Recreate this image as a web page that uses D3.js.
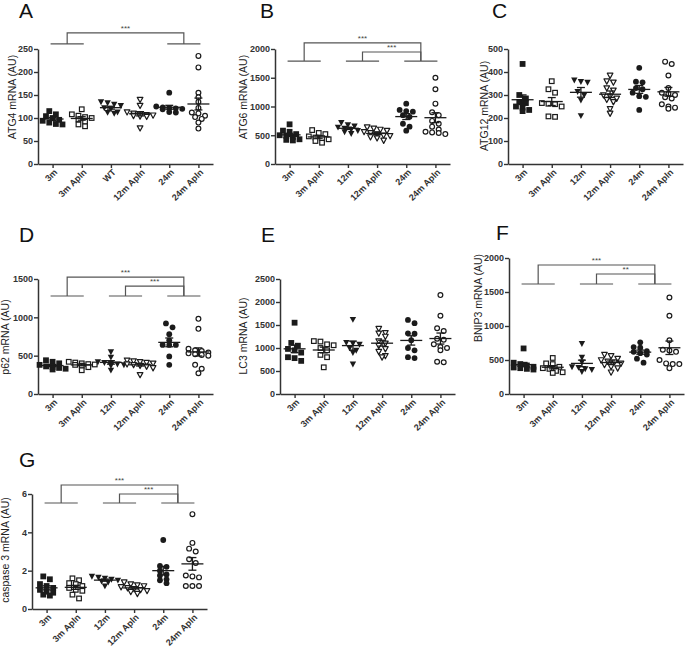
<!DOCTYPE html>
<html><head><meta charset="utf-8">
<script src="https://cdn.jsdelivr.net/npm/d3@7"></script>
<style>body{margin:0;background:#fff}svg{display:block}text{font-family:"Liberation Sans",Arial,sans-serif}</style>
</head><body>
<svg id="chart" width="685" height="649"></svg>
<script>
// ---- categories ----
const categoriesA = ["3m", "3m Apln", "WT", "12m Apln", "24m", "24m Apln"];
const categories = ["3m", "3m Apln", "12m", "12m Apln", "24m", "24m Apln"];

// ---- values (one array per group, order as categories) ----
const atg4Values = [
  [115, 108, 104, 100, 96, 94, 90, 87, 86],
  [119, 108, 105, 102, 100, 97, 92, 86, 82],
  [135, 133, 130, 127, 122, 120, 113, 112, 110],
  [140, 127, 113, 110, 108, 107, 106, 105, 104, 103, 78],
  [155, 125, 123, 122, 121, 120, 119, 113, 112],
  [235, 210, 155, 145, 135, 122, 112, 110, 105, 102, 98, 90, 77]
];
const atg6Values = [
  [690, 580, 560, 520, 500, 490, 470, 430, 420, 410],
  [590, 540, 520, 480, 460, 450, 430, 400, 370],
  [720, 680, 660, 640, 620, 600, 580, 560, 530],
  [640, 620, 600, 580, 560, 540, 520, 500, 490, 470, 450, 410],
  [1050, 940, 910, 920, 850, 820, 700, 650, 580],
  [1500, 1300, 1050, 900, 850, 750, 700, 650, 600, 560, 550, 540, 520]
];
const atg12Values = [
  [435, 300, 285, 270, 265, 250, 245, 235, 230],
  [360, 325, 310, 265, 262, 260, 250, 207, 205],
  [365, 358, 355, 315, 300, 278, 210],
  [385, 360, 355, 330, 320, 300, 295, 285, 280, 270, 240, 220],
  [418, 358, 355, 330, 325, 310, 295, 292, 235],
  [445, 435, 385, 330, 310, 305, 300, 290, 285, 260, 250, 240, 245]
];
const p62Values = [
  [440, 420, 400, 380, 360, 350, 340, 330, 320],
  [420, 410, 400, 390, 385, 380, 370, 350, 310],
  [550, 480, 420, 410, 400, 390, 380, 370, 310],
  [440, 430, 420, 410, 400, 390, 380, 370, 360, 340, 250],
  [920, 870, 780, 700, 640, 640, 640, 490, 380],
  [980, 850, 590, 570, 560, 540, 530, 520, 510, 500, 380, 330, 270]
];
const lc3Values = [
  [1550, 1110, 1050, 980, 950, 900, 800, 780, 720],
  [1150, 1140, 1080, 1060, 1000, 950, 850, 800, 580],
  [1620, 1120, 1100, 1080, 1000, 950, 900, 650],
  [1420, 1330, 1320, 1250, 1150, 1100, 1050, 980, 920, 830, 800],
  [1610, 1540, 1320, 1310, 1170, 1000, 950, 800, 780],
  [2150, 1700, 1430, 1370, 1200, 1180, 1080, 1020, 1000, 950, 700, 690]
];
const bnip3Values = [
  [670, 460, 440, 420, 400, 390, 380, 370, 360],
  [530, 450, 440, 400, 380, 370, 340, 320, 310],
  [740, 540, 470, 400, 390, 370, 360, 330],
  [580, 560, 520, 500, 480, 470, 450, 430, 400, 380, 320],
  [760, 690, 680, 630, 620, 600, 580, 520, 460],
  [1420, 1150, 790, 650, 640, 620, 500, 450, 440, 440, 380]
];
const casp3Values = [
  [1.7, 1.55, 1.3, 1.2, 1.1, 1.0, 0.9, 0.85, 0.75, 0.7],
  [1.6, 1.5, 1.35, 1.3, 1.2, 1.1, 1.0, 0.95, 0.75, 0.55],
  [1.7, 1.65, 1.6, 1.55, 1.5, 1.45, 1.4, 1.2],
  [1.4, 1.3, 1.25, 1.2, 1.15, 1.1, 1.05, 1.0, 0.95, 0.9, 0.8],
  [3.6, 2.25, 2.2, 2.0, 1.8, 1.75, 1.55, 1.5, 1.35],
  [4.95, 3.45, 3.15, 3.0, 2.6, 2.4, 1.75, 1.7, 1.65, 1.2, 1.2, 1.2]
];

// ---- y ticks ----
const atg4Ticks = [0, 50, 100, 150, 200, 250];
const atg6Ticks = [0, 500, 1000, 1500, 2000];
const atg12Ticks = [0, 100, 200, 300, 400, 500];
const p62Ticks = [0, 500, 1000, 1500];
const lc3Ticks = [0, 500, 1000, 1500, 2000, 2500];
const bnip3Ticks = [0, 500, 1000, 1500, 2000];
const casp3Ticks = [0, 2, 4, 6];

// ---- significance brackets: pairs of groups, bar level, comparisons ----
const groupPairs = [[0, 1], [2, 3], [4, 5]];
const atg4Sig = {pairs: [0, 2], bar: 261, comps: [{from: 0, to: 2, y: 285, label: "***"}]};
const atg6Sig = {pairs: [0, 1, 2], bar: 1790, comps: [{from: 0, to: 2, y: 2105, label: "***"}, {from: 1, to: 2, y: 1948, label: "***"}]};
const p62Sig = {pairs: [0, 1, 2], bar: 1278, comps: [{from: 0, to: 2, y: 1525, label: "***"}, {from: 1, to: 2, y: 1408, label: "***"}]};
const bnip3Sig = {pairs: [0, 1, 2], bar: 1618, comps: [{from: 0, to: 2, y: 1897, label: "***"}, {from: 1, to: 2, y: 1765, label: "**"}]};
const casp3Sig = {pairs: [0, 1, 2], bar: 5.53, comps: [{from: 0, to: 2, y: 6.47, label: "***"}, {from: 1, to: 2, y: 6.0, label: "***"}]};

// ---- panel layout ----
const panels = [
  {letter: "A", cats: categoriesA, values: atg4Values, ticks: atg4Ticks, ylabel: "ATG4 mRNA (AU)", sig: atg4Sig,
   ax: 38, top: 49, bottom: 164, lx: 19, ly: 18, labX: 12, labY: 97},
  {letter: "B", cats: categories, values: atg6Values, ticks: atg6Ticks, ylabel: "ATG6 mRNA (AU)", sig: atg6Sig,
   ax: 275, top: 49, bottom: 164, lx: 260, ly: 18, labX: 243, labY: 97},
  {letter: "C", cats: categories, values: atg12Values, ticks: atg12Ticks, ylabel: "ATG12 mRNA (AU)", sig: null,
   ax: 508, top: 49, bottom: 164, lx: 492, ly: 18, labX: 484, labY: 106},
  {letter: "D", cats: categories, values: p62Values, ticks: p62Ticks, ylabel: "p62 mRNA (AU)", sig: p62Sig,
   ax: 38, top: 279, bottom: 394, lx: 19, ly: 242, labX: 5, labY: 337},
  {letter: "E", cats: categories, values: lc3Values, ticks: lc3Ticks, ylabel: "LC3 mRNA (AU)", sig: null,
   ax: 280, top: 279, bottom: 394, lx: 261, ly: 242, labX: 243, labY: 336},
  {letter: "F", cats: categories, values: bnip3Values, ticks: bnip3Ticks, ylabel: "BNIP3 mRNA (AU)", sig: bnip3Sig,
   ax: 509, top: 258, bottom: 394, lx: 496, ly: 240, labX: 478, labY: 298},
  {letter: "G", cats: categories, values: casp3Values, ticks: casp3Ticks, ylabel: "caspase 3 mRNA (AU)", sig: casp3Sig,
   ax: 32, top: 494, bottom: 609, lx: 19, ly: 467, labX: 5, labY: 550}
];

const svg = d3.select("#chart");
const INK = "#1b1b1b";
const AXIS = "#333";
const R = 2.9;
const symbolKinds = ["sq", "sq", "tri", "tri", "circ", "circ"];
const filledKinds = [true, false, true, false, true, false];

// Prism-like column scatter: points grouped into rows by pixel height, spread evenly within ±13 px
function swarm(vals, y, cx) {
  const pts = vals.map(v => ({v, py: y(v)})).sort((a, b) => a.py - b.py);
  const rows = [];
  const rowH = 4.2;
  pts.forEach(p => {
    const last = rows[rows.length - 1];
    if (last && p.py - last[0].py < rowH && last.length < 5) last.push(p);
    else rows.push([p]);
  });
  rows.forEach(row => {
    const n = row.length;
    const step = n > 1 ? Math.min(2 * R + 0.8, 26 / (n - 1)) : 0;
    row.forEach((p, j) => { p.px = cx + (j - (n - 1) / 2) * step; });
  });
  return pts;
}

function drawSymbol(g, kind, filled, x, y) {
  const fill = filled ? INK : "#fff";
  const sw = filled ? 0 : 1.2;
  if (kind === "sq") {
    const s = filled ? 2 * R : 2 * R - 1.2;
    g.append("rect").attr("x", x - s / 2).attr("y", y - s / 2).attr("width", s).attr("height", s)
      .attr("fill", fill).attr("stroke", INK).attr("stroke-width", sw);
  } else if (kind === "tri") {
    const h = filled ? 3.2 : 2.8;
    g.append("path").attr("d", `M${x - h},${y - h * 0.8}L${x + h},${y - h * 0.8}L${x},${y + h * 1.05}Z`)
      .attr("fill", fill).attr("stroke", INK).attr("stroke-width", sw).attr("stroke-linejoin", "round");
  } else {
    g.append("circle").attr("cx", x).attr("cy", y).attr("r", filled ? R : R - 0.5)
      .attr("fill", fill).attr("stroke", INK).attr("stroke-width", sw);
  }
}

panels.forEach(P => {
  const g = svg.append("g");
  const W = 175;
  const x = d3.scalePoint().domain(P.cats).range([P.ax, P.ax + W]).padding(0.5);
  const y = d3.scaleLinear().domain([0, P.ticks[P.ticks.length - 1]]).range([P.bottom, P.top]);

  g.append("text").attr("x", P.lx).attr("y", P.ly).text(P.letter)
    .attr("font-size", 21).attr("fill", "#111");

  g.append("text").attr("transform", `translate(${P.labX},${P.labY}) rotate(-90)`)
    .attr("text-anchor", "middle").attr("dominant-baseline", "central")
    .attr("font-size", 10.5).attr("fill", "#222").text(P.ylabel);

  const ya = g.append("g").attr("transform", `translate(${P.ax},0)`)
    .call(d3.axisLeft(y).tickValues(P.ticks).tickSize(4).tickSizeOuter(0).tickFormat(d3.format("d")));
  ya.select(".domain").attr("stroke", AXIS).attr("stroke-width", 1.5);
  ya.selectAll(".tick line").attr("stroke", AXIS).attr("stroke-width", 1.4);
  ya.selectAll(".tick text").attr("font-size", 9).attr("font-weight", "bold").attr("fill", "#333")
    .attr("font-family", "Liberation Sans, Arial, sans-serif").attr("x", -5);

  const xa = g.append("g").attr("transform", `translate(0,${P.bottom})`)
    .call(d3.axisBottom(x).tickSize(4).tickSizeOuter(0));
  xa.select(".domain").attr("stroke", AXIS).attr("stroke-width", 1.5);
  xa.selectAll(".tick line").attr("stroke", AXIS).attr("stroke-width", 1.4);
  xa.selectAll(".tick text").attr("font-size", 9).attr("font-weight", "bold").attr("fill", "#333")
    .attr("font-family", "Liberation Sans, Arial, sans-serif")
    .attr("text-anchor", "end").attr("transform", "translate(3,7) rotate(-45)").attr("dy", "0.3em").attr("y", 0);

  P.values.forEach((vals, i) => {
    const cx = x(P.cats[i]);
    swarm(vals, y, cx).forEach(p => drawSymbol(g, symbolKinds[i], filledKinds[i], p.px, p.py));
    const m = d3.mean(vals);
    const se = d3.deviation(vals) / Math.sqrt(vals.length);
    const ln = g.append("g").attr("stroke", INK).attr("stroke-width", 1.3);
    ln.append("line").attr("x1", cx - 11).attr("x2", cx + 11).attr("y1", y(m)).attr("y2", y(m));
    ln.append("line").attr("x1", cx).attr("x2", cx).attr("y1", y(m - se)).attr("y2", y(m + se));
    ln.append("line").attr("x1", cx - 4).attr("x2", cx + 4).attr("y1", y(m - se)).attr("y2", y(m - se));
    ln.append("line").attr("x1", cx - 4).attr("x2", cx + 4).attr("y1", y(m + se)).attr("y2", y(m + se));
  });

  if (P.sig) {
    const bg = g.append("g").attr("stroke", "#555").attr("stroke-width", 1.2).attr("fill", "none");
    const mid = k => (x(P.cats[groupPairs[k][0]]) + x(P.cats[groupPairs[k][1]])) / 2;
    P.sig.pairs.forEach(k => {
      bg.append("line").attr("x1", x(P.cats[groupPairs[k][0]]) - 2).attr("x2", x(P.cats[groupPairs[k][1]]) + 2)
        .attr("y1", y(P.sig.bar)).attr("y2", y(P.sig.bar));
    });
    P.sig.comps.forEach(c => {
      const x1 = mid(c.from), x2 = mid(c.to);
      bg.append("path").attr("d", `M${x1},${y(P.sig.bar)}V${y(c.y)}H${x2}V${y(P.sig.bar)}`);
      g.append("text").attr("x", (x1 + x2) / 2).attr("y", y(c.y) - 2).attr("text-anchor", "middle")
        .attr("font-size", 8).attr("fill", "#444").text(c.label);
    });
  }
});
</script>
</body></html>
